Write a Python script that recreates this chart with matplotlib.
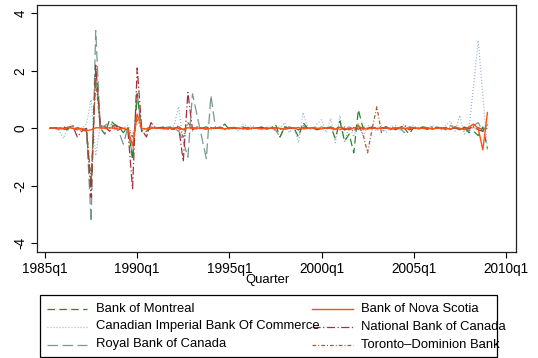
import matplotlib
matplotlib.use("Agg")
import matplotlib.pyplot as plt
from matplotlib.lines import Line2D
from matplotlib.patches import Rectangle
import numpy as np

plt.rcParams['font.family'] = ['Liberation Sans', 'DejaVu Sans']

# quarters as Stata %tq index (1960q1 = 0): 1985q2 .. 2009q1
qtr = np.arange(101, 197)

xticks = [100, 120, 140, 160, 180, 200]
xticklabels = ['1985q1', '1990q1', '1995q1', '2000q1', '2005q1', '2010q1']
yticks = [-4, -2, 0, 2, 4]

montreal = [
    0.00, 0.02, 0.03, 0.00, -0.05, -0.02, 0.02, -0.05, -0.10, -2.00, 2.10, 0.00,
    -0.20, 0.30, 0.15, 0.05, -0.15, 0.05, -1.10, 1.20, -0.15, -0.10, 0.00, 0.02,
    0.03, 0.05, 0.02, -0.03, 0.05, -0.05, 0.03, 0.02, -0.02, 0.00, 0.05, -0.03,
    0.02, 0.00, 0.15, -0.05, 0.02, 0.00, 0.03, -0.02, 0.02, 0.00, 0.03, -0.02,
    0.00, 0.15, -0.30, 0.05, 0.00, 0.02, -0.30, 0.20, 0.00, 0.02, -0.05, 0.00,
    0.00, 0.05, -0.35, 0.25, -0.45, -0.20, -0.85, 0.65, 0.00, 0.05, 0.00, 0.03,
    0.02, 0.00, 0.05, -0.05, 0.02, 0.00, -0.20, 0.03, 0.00, 0.05, 0.02, -0.03,
    0.02, 0.05, -0.02, 0.00, 0.05, -0.05, 0.02, -0.15, -0.10, -0.25, 0.05, -0.70,
]
nova_scotia = [
    0.00, 0.02, 0.00, -0.02, 0.03, 0.00, -0.02, 0.00, -0.08, -0.05, 0.02, 0.02,
    0.00, 0.02, 0.00, -0.02, 0.00, -0.05, -0.60, 0.50, 0.00, -0.02, 0.00, 0.02,
    0.00, -0.02, 0.00, 0.02, 0.00, -0.03, 0.02, 0.00, 0.00, 0.02, -0.02, 0.00,
    0.02, 0.00, -0.02, 0.00, 0.02, 0.00, 0.00, -0.02, 0.02, 0.00, -0.02, 0.02,
    0.00, 0.02, 0.00, -0.03, 0.02, 0.00, 0.03, -0.02, 0.00, 0.02, 0.00, -0.02,
    0.02, 0.00, -0.03, 0.03, 0.00, -0.05, 0.02, 0.05, 0.00, -0.03, 0.02, 0.00,
    0.00, 0.02, -0.02, 0.00, 0.03, 0.00, -0.02, 0.02, 0.00, 0.00, 0.02, -0.02,
    0.00, 0.02, 0.00, -0.02, 0.05, 0.00, -0.05, 0.05, 0.15, 0.00, -0.75, 0.55,
]
cibc = [
    0.00, 0.00, -0.05, -0.35, 0.05, 0.00, -0.05, 0.00, 0.15, 1.00, -0.95, 0.10,
    0.05, 0.10, -0.05, 0.05, 0.00, 0.10, -0.20, 0.15, 0.00, -0.05, 0.00, 0.05,
    0.02, 0.00, 0.05, 0.10, 0.75, -0.50, 0.20, -0.10, 0.05, 0.00, 0.02, -0.05,
    0.00, 0.05, -0.05, 0.02, 0.05, -0.10, 0.15, 0.05, 0.10, 0.00, -0.05, 0.05,
    0.05, -0.10, 0.00, 0.20, -0.15, 0.05, -0.50, 0.55, 0.00, -0.05, 0.15, 0.30,
    -0.15, 0.35, -0.50, 0.45, -0.50, 0.10, -0.30, 0.20, -0.30, 0.10, 0.05, -0.10,
    0.10, -0.15, 0.05, 0.10, -0.05, 0.15, 0.00, 0.10, -0.05, 0.05, 0.00, 0.10,
    0.05, -0.05, 0.10, 0.25, -0.10, 0.45, -0.20, 0.00, 1.50, 3.05, 1.15, -0.75,
]
national = [
    0.00, 0.02, 0.00, 0.05, 0.00, 0.10, -0.30, -0.10, 0.00, -2.40, 2.20, 0.10,
    0.05, -0.10, 0.10, 0.05, 0.00, -0.10, -2.10, 2.10, -0.05, -0.30, 0.20, 0.00,
    0.02, 0.00, -0.05, 0.00, 0.05, -1.15, 1.25, -0.05, 0.05, 0.00, -0.02, 0.03,
    0.00, 0.02, -0.02, 0.00, 0.03, 0.00, -0.02, 0.02, 0.00, 0.00, 0.03, -0.02,
    0.00, 0.02, 0.00, -0.02, 0.00, 0.03, -0.05, 0.02, 0.00, 0.02, 0.00, -0.02,
    0.02, 0.00, -0.03, 0.05, -0.05, 0.00, 0.03, -0.03, 0.05, 0.00, 0.02, 0.00,
    0.00, 0.05, -0.02, 0.00, 0.03, 0.10, -0.05, 0.00, 0.02, 0.00, -0.03, 0.05,
    0.00, 0.02, 0.00, -0.03, 0.02, 0.00, 0.03, -0.02, 0.05, -0.05, -0.10, 0.10,
]
royal = [
    0.00, 0.02, -0.05, -0.05, 0.00, 0.10, 0.05, -0.05, 0.00, -3.25, 3.40, 0.00,
    0.10, 0.20, 0.05, -0.10, -0.55, 0.05, -1.00, 1.20, -0.10, 0.00, 0.05, 0.00,
    0.00, 0.02, 0.05, 0.00, -0.10, -0.45, -1.00, 1.20, 0.45, -0.30, -1.05, 1.15,
    0.00, 0.05, -0.02, 0.03, 0.00, -0.02, 0.05, 0.00, -0.03, 0.02, 0.05, 0.00,
    0.02, -0.05, -0.30, 0.05, 0.00, 0.03, -0.05, 0.10, 0.00, 0.02, -0.03, 0.05,
    0.00, 0.05, -0.05, 0.10, -0.05, 0.00, 0.05, 0.10, -0.05, 0.00, 0.05, -0.02,
    0.00, 0.05, -0.05, 0.03, 0.00, -0.15, 0.05, 0.02, 0.00, 0.03, -0.02, 0.00,
    0.05, 0.00, -0.05, 0.10, 0.00, -0.05, 0.05, -0.10, 0.10, 0.20, -0.10, 0.15,
]
toronto = [
    0.00, 0.00, 0.02, -0.05, 0.05, 0.00, -0.05, -0.10, 0.00, -1.80, 1.70, 0.00,
    0.05, 0.00, 0.10, -0.05, 0.02, 0.00, -0.30, 0.30, 0.00, -0.05, 0.02, 0.00,
    0.00, 0.02, 0.00, -0.03, 0.10, -0.30, 0.20, 0.00, 0.02, 0.00, -0.02, 0.02,
    0.00, 0.02, 0.00, -0.02, 0.03, 0.00, 0.02, -0.02, 0.00, 0.02, 0.00, -0.02,
    0.02, 0.00, -0.03, 0.00, 0.05, 0.00, -0.05, 0.03, 0.00, 0.02, -0.02, 0.00,
    0.00, 0.03, 0.00, -0.05, 0.05, 0.00, -0.10, 0.10, -0.20, -0.85, 0.00, 0.75,
    -0.15, 0.05, 0.00, 0.02, -0.03, 0.00, 0.05, 0.00, -0.02, 0.03, 0.00, 0.02,
    0.00, -0.02, 0.03, 0.00, 0.02, -0.03, 0.00, 0.05, 0.00, 0.03, -0.05, 0.00,
]

names = ['Bank of Montreal', 'Bank of Nova Scotia',
         'Canadian Imperial Bank Of Commerce', 'National Bank of Canada',
         'Royal Bank of Canada', 'Toronto\u2013Dominion Bank']
series = [montreal, nova_scotia, cibc, national, royal, toronto]
colors = ['#2a852a', '#ff5014', '#92b3d6', '#a3303a', '#789890', '#a85a35']
dashes = [(6, 3.5), None, (0.8, 1.6), (6.5, 2, 1, 2), (8.5, 3.5), (3, 1.6, 0.8, 1.6)]
widths = [0.9, 1.0, 0.9, 0.9, 0.9, 0.9]
zord = [3, 8, 2, 4, 2.5, 5]

W, H = 538, 358
fig = plt.figure(figsize=(W / 100, H / 100), dpi=100)
ax = fig.add_axes([37 / W, 1 - 252 / H, (516 - 37) / W, (252 - 5) / H])

for y, c, d, lw, z in zip(series, colors, dashes, widths, zord):
    ln, = ax.plot(qtr, y, color=c, lw=lw, zorder=z)
    if d is not None:
        ln.set_dashes(d)

ax.set_xlim(98.26, 202.2)
ax.set_ylim(-4.30, 4.29)
ax.set_xticks(xticks)
ax.set_xticklabels(xticklabels, fontsize=9.8)
ax.set_yticks(yticks)
ax.set_yticklabels([str(v) for v in yticks], fontsize=9.8, rotation=90, va='center')
ax.tick_params(direction='out', length=4, width=0.8, pad=3, colors='black')
for s in ax.spines.values():
    s.set_linewidth(0.9)
    s.set_color('#222222')

fig.text(268 / W, 1 - 280 / H, 'Quarter', ha='center', va='center', fontsize=9.4)

# legend box, two columns filled row by row
fig.add_artist(Rectangle((40 / W, 1 - 357 / H), (497 - 40) / W, (357 - 295) / H,
                         transform=fig.transFigure, fill=False, lw=0.9, ec='black'))
row_y = [308.5, 326.5, 344.5]
col_x = [(47, 87, 96), (312, 353, 361)]
for i, (nm, c, d, lw) in enumerate(zip(names, colors, dashes, widths)):
    r, k = divmod(i, 2)
    x0, x1, tx = col_x[k]
    yy = 1 - row_y[r] / H
    ln = Line2D([x0 / W, x1 / W], [yy, yy], transform=fig.transFigure,
                color=c, lw=lw)
    if d is not None:
        ln.set_dashes(d)
    fig.add_artist(ln)
    fig.text(tx / W, yy, nm, ha='left', va='center', fontsize=9.4)

fig.savefig('out.png', dpi=100)
